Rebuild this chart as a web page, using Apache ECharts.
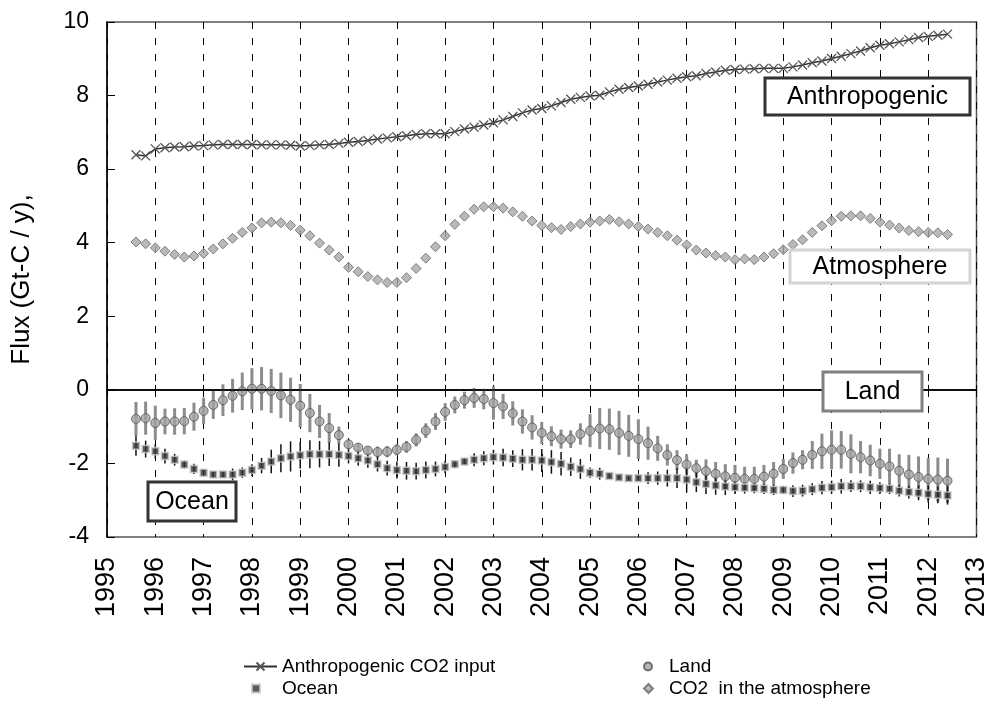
<!DOCTYPE html>
<html>
<head>
<meta charset="utf-8">
<script src="https://cdn.jsdelivr.net/npm/echarts@6/dist/echarts.min.js"></script>
<style>
  html, body { margin: 0; padding: 0; background: #fff; }
  #chart { width: 990px; height: 704px; }
</style>
</head>
<body>
<div id="chart"></div>
<script>
// Sampling times (decimal years, 5 samples per year)
const years = [
  1995.6, 1995.8, 1996.0, 1996.2, 1996.4, 1996.6, 1996.8, 1997.0, 1997.2, 1997.4,
  1997.6, 1997.8, 1998.0, 1998.2, 1998.4, 1998.6, 1998.8, 1999.0, 1999.2, 1999.4,
  1999.6, 1999.8, 2000.0, 2000.2, 2000.4, 2000.6, 2000.8, 2001.0, 2001.2, 2001.4,
  2001.6, 2001.8, 2002.0, 2002.2, 2002.4, 2002.6, 2002.8, 2003.0, 2003.2, 2003.4,
  2003.6, 2003.8, 2004.0, 2004.2, 2004.4, 2004.6, 2004.8, 2005.0, 2005.2, 2005.4,
  2005.6, 2005.8, 2006.0, 2006.2, 2006.4, 2006.6, 2006.8, 2007.0, 2007.2, 2007.4,
  2007.6, 2007.8, 2008.0, 2008.2, 2008.4, 2008.6, 2008.8, 2009.0, 2009.2, 2009.4,
  2009.6, 2009.8, 2010.0, 2010.2, 2010.4, 2010.6, 2010.8, 2011.0, 2011.2, 2011.4,
  2011.6, 2011.8, 2012.0, 2012.2, 2012.4
];

// Anthropogenic CO2 input (Gt-C / y)
const anthropogenic = [
  6.39, 6.36, 6.55, 6.58, 6.60, 6.61, 6.63, 6.64, 6.66, 6.67,
  6.67, 6.67, 6.67, 6.66, 6.66, 6.66, 6.65, 6.63, 6.64, 6.66,
  6.67, 6.70, 6.73, 6.75, 6.78, 6.82, 6.85, 6.88, 6.91, 6.94,
  6.96, 6.96, 6.96, 7.02, 7.09, 7.14, 7.20, 7.26, 7.34, 7.43,
  7.53, 7.61, 7.65, 7.72, 7.81, 7.90, 7.95, 7.99, 8.01, 8.10,
  8.17, 8.22, 8.26, 8.31, 8.37, 8.42, 8.47, 8.51, 8.54, 8.60,
  8.64, 8.69, 8.71, 8.72, 8.73, 8.74, 8.74, 8.74, 8.78, 8.83,
  8.89, 8.94, 9.01, 9.07, 9.14, 9.21, 9.30, 9.37, 9.41, 9.46,
  9.52, 9.58, 9.61, 9.64, 9.67
];

// CO2 growth in the atmosphere
const atmosphere = [
  4.02, 3.97, 3.86, 3.77, 3.68, 3.61, 3.64, 3.71, 3.83, 3.97,
  4.12, 4.28, 4.40, 4.54, 4.56, 4.54, 4.47, 4.34, 4.19, 3.99,
  3.80, 3.61, 3.33, 3.21, 3.08, 2.99, 2.92, 2.92, 3.05, 3.30,
  3.58, 3.89, 4.19, 4.50, 4.72, 4.91, 4.98, 4.98, 4.94, 4.84,
  4.72, 4.59, 4.47, 4.41, 4.36, 4.44, 4.51, 4.56, 4.59, 4.63,
  4.57, 4.51, 4.44, 4.37, 4.28, 4.19, 4.07, 3.94, 3.80, 3.72,
  3.65, 3.61, 3.54, 3.56, 3.54, 3.61, 3.70, 3.81, 3.95, 4.08,
  4.28, 4.46, 4.60, 4.72, 4.73, 4.73, 4.66, 4.56, 4.48, 4.40,
  4.33, 4.30, 4.28, 4.27, 4.22
];

// Land flux and its uncertainty (half width)
const land = [
  -0.79, -0.77, -0.90, -0.86, -0.86, -0.85, -0.73, -0.57, -0.41, -0.28,
  -0.16, -0.04, 0.03, 0.03, -0.03, -0.15, -0.27, -0.43, -0.63, -0.86,
  -1.04, -1.23, -1.48, -1.57, -1.65, -1.69, -1.68, -1.63, -1.55, -1.36,
  -1.11, -0.86, -0.60, -0.41, -0.28, -0.22, -0.25, -0.36, -0.45, -0.64,
  -0.86, -1.02, -1.17, -1.26, -1.34, -1.34, -1.20, -1.11, -1.05, -1.07,
  -1.17, -1.25, -1.34, -1.45, -1.59, -1.77, -1.91, -2.03, -2.13, -2.21,
  -2.28, -2.35, -2.39, -2.42, -2.42, -2.36, -2.28, -2.15, -1.99, -1.90,
  -1.77, -1.67, -1.63, -1.63, -1.74, -1.83, -1.92, -2.01, -2.08, -2.20,
  -2.30, -2.37, -2.42, -2.44, -2.47
];
const landErr = [
  0.46, 0.45, 0.47, 0.35, 0.36, 0.36, 0.38, 0.36, 0.38, 0.43,
  0.46, 0.51, 0.56, 0.59, 0.60, 0.62, 0.60, 0.59, 0.52, 0.45,
  0.41, 0.23, 0.12, 0.12, 0.12, 0.15, 0.15, 0.15, 0.16, 0.18,
  0.20, 0.23, 0.24, 0.23, 0.23, 0.27, 0.28, 0.45, 0.34, 0.33,
  0.33, 0.33, 0.30, 0.27, 0.26, 0.24, 0.29, 0.45, 0.56, 0.56,
  0.60, 0.57, 0.54, 0.45, 0.34, 0.29, 0.27, 0.27, 0.23, 0.32,
  0.32, 0.33, 0.35, 0.33, 0.33, 0.32, 0.32, 0.27, 0.29, 0.26,
  0.38, 0.48, 0.53, 0.51, 0.53, 0.44, 0.43, 0.41, 0.48, 0.45,
  0.53, 0.56, 0.57, 0.60, 0.60
];

// Ocean flux and its uncertainty (half width)
const ocean = [
  -1.52, -1.61, -1.67, -1.80, -1.90, -2.03, -2.15, -2.25, -2.30, -2.30,
  -2.30, -2.25, -2.18, -2.06, -1.95, -1.86, -1.81, -1.78, -1.75, -1.75,
  -1.75, -1.77, -1.80, -1.86, -1.92, -2.02, -2.13, -2.18, -2.20, -2.21,
  -2.18, -2.15, -2.10, -2.02, -1.95, -1.90, -1.86, -1.83, -1.84, -1.87,
  -1.90, -1.90, -1.92, -1.96, -2.01, -2.09, -2.15, -2.25, -2.28, -2.34,
  -2.38, -2.40, -2.40, -2.40, -2.40, -2.40, -2.40, -2.44, -2.51, -2.56,
  -2.60, -2.63, -2.65, -2.66, -2.67, -2.69, -2.72, -2.72, -2.75, -2.74,
  -2.70, -2.66, -2.65, -2.62, -2.62, -2.62, -2.65, -2.67, -2.69, -2.74,
  -2.78, -2.80, -2.83, -2.85, -2.87
];
const oceanErr = [
  0.27, 0.23, 0.20, 0.20, 0.16, 0.11, 0.14, 0.10, 0.08, 0.08,
  0.16, 0.14, 0.16, 0.21, 0.32, 0.38, 0.41, 0.36, 0.38, 0.36,
  0.32, 0.32, 0.20, 0.20, 0.20, 0.20, 0.20, 0.23, 0.24, 0.23,
  0.23, 0.20, 0.17, 0.11, 0.10, 0.18, 0.19, 0.20, 0.24, 0.23,
  0.29, 0.29, 0.31, 0.32, 0.32, 0.25, 0.27, 0.14, 0.16, 0.07,
  0.05, 0.05, 0.05, 0.16, 0.18, 0.23, 0.27, 0.34, 0.27, 0.27,
  0.25, 0.23, 0.18, 0.16, 0.14, 0.14, 0.14, 0.11, 0.16, 0.16,
  0.16, 0.18, 0.18, 0.20, 0.16, 0.16, 0.18, 0.16, 0.14, 0.16,
  0.17, 0.20, 0.23, 0.23, 0.25
];

const FONT = "'Liberation Sans', Arial, sans-serif";

const pairs = (vals) => years.map((y, i) => [y, vals[i]]);

// Vertical uncertainty bars drawn through the axis scales
function errorBars(vals, errs, color, width) {
  return {
    type: 'custom',
    silent: true,
    z: 2,
    renderItem: function (params, api) {
      const x = api.value(0);
      const p1 = api.coord([x, api.value(1)]);
      const p2 = api.coord([x, api.value(2)]);
      return {
        type: 'line',
        shape: { x1: p1[0], y1: p1[1], x2: p2[0], y2: p2[1] },
        style: { stroke: color, lineWidth: width }
      };
    },
    encode: { x: 0, y: [1, 2] },
    data: years.map((y, i) => [y, vals[i] - errs[i], vals[i] + errs[i]])
  };
}

const chart = echarts.init(document.getElementById('chart'), null, { renderer: 'canvas' });

// Framed series captions inside the plot
const boxes = [
  { text: 'Anthropogenic', x: 765, y: 78, w: 205, h: 37, stroke: '#333333' },
  { text: 'Atmosphere', x: 790, y: 250, w: 180, h: 33, stroke: '#d4d4d4' },
  { text: 'Land', x: 823, y: 372, w: 99, h: 39, stroke: '#808080' },
  { text: 'Ocean', x: 148, y: 482, w: 88, h: 39, stroke: '#333333' }
];

const graphic = [];
boxes.forEach(b => {
  graphic.push({
    type: 'rect', z: 100,
    shape: { x: b.x, y: b.y, width: b.w, height: b.h },
    style: { fill: '#ffffff', stroke: b.stroke, lineWidth: 3 }
  });
  graphic.push({
    type: 'text', z: 101,
    x: b.x + b.w / 2, y: b.y + b.h / 2 + 1,
    style: {
      text: b.text, fill: '#000', font: '25px ' + FONT,
      textAlign: 'center', textVerticalAlign: 'middle'
    }
  });
});

// One legend block per entry, laid out as two columns of two rows
function legendEntry(name, left, top, icon, size, shift) {
  const entry = {
    data: [icon ? { name: name, icon: icon } : name],
    orient: 'vertical', left: left, top: top, padding: 0,
    itemWidth: icon ? size : 33, itemHeight: icon ? size : 10,
    textStyle: { color: '#000', fontSize: 19, fontFamily: FONT, padding: [0, 0, 0, shift] }
  };
  return entry;
}

const option = {
  backgroundColor: '#ffffff',
  animation: false,
  grid: {
    left: 107, right: 10, top: 22, bottom: 167,
    show: true, borderColor: '#555', borderWidth: 1.5, backgroundColor: 'transparent'
  },
  xAxis: {
    type: 'value', min: 1995, max: 2013, interval: 1,
    axisLine: { show: true, lineStyle: { color: '#000', width: 1.5 } },
    axisTick: { show: true, inside: true, length: 5, lineStyle: { color: '#000' } },
    axisLabel: {
      rotate: 90, margin: 20, color: '#000', fontSize: 27, fontFamily: FONT,
      formatter: v => String(v)
    },
    splitLine: { show: true, lineStyle: { color: '#000', type: [7, 9], width: 1 } }
  },
  yAxis: {
    type: 'value', min: -4, max: 10, interval: 2,
    name: 'Flux (Gt-C / y),', nameLocation: 'middle', nameRotate: 90, nameGap: 72,
    nameTextStyle: { color: '#000', fontSize: 26, fontFamily: FONT },
    axisLine: { show: true, lineStyle: { color: '#000', width: 1.5 } },
    axisTick: { show: true, inside: true, length: 8, lineStyle: { color: '#000' } },
    axisLabel: { margin: 18, color: '#000', fontSize: 23, fontFamily: FONT },
    splitLine: { show: false }
  },
  legend: [
    legendEntry('Anthropogenic CO2 input', 243, 657, null, 0, 0),
    legendEntry('Ocean', 251, 679, 'rect', 8, 17),
    legendEntry('Land', 643, 657, 'circle', 8, 12),
    legendEntry('CO2  in the atmosphere', 643, 679, 'diamond', 9, 11)
  ],
  graphic: graphic,
  series: [
    errorBars(land, landErr, '#8c8c8c', 3),
    errorBars(ocean, oceanErr, '#111111', 1.5),
    {
      name: 'Anthropogenic CO2 input', type: 'line', z: 4,
      data: pairs(anthropogenic),
      symbol: 'path://M0,0L10,10M10,0L0,10', symbolSize: 9,
      lineStyle: { color: '#333', width: 1.5 },
      itemStyle: { color: '#555', borderColor: '#555', borderWidth: 1.3 },
      markLine: {
        silent: true, symbol: 'none', label: { show: false },
        lineStyle: { color: '#000', type: 'solid', width: 1.5 },
        data: [{ yAxis: 0 }]
      }
    },
    {
      name: 'CO2  in the atmosphere', type: 'scatter', z: 4,
      data: pairs(atmosphere),
      symbol: 'diamond', symbolSize: 10,
      itemStyle: { color: '#a8a8a8', borderColor: '#666', borderWidth: 1 }
    },
    {
      name: 'Land', type: 'scatter', z: 4,
      data: pairs(land),
      symbol: 'circle', symbolSize: 9,
      itemStyle: { color: '#a3a3a3', borderColor: '#555', borderWidth: 1 }
    },
    {
      name: 'Ocean', type: 'scatter', z: 4,
      data: pairs(ocean),
      symbol: 'rect', symbolSize: 7,
      itemStyle: { color: '#333', borderColor: '#c8c8c8', borderWidth: 1.5 }
    }
  ]
};

chart.setOption(option);
</script>
</body>
</html>
